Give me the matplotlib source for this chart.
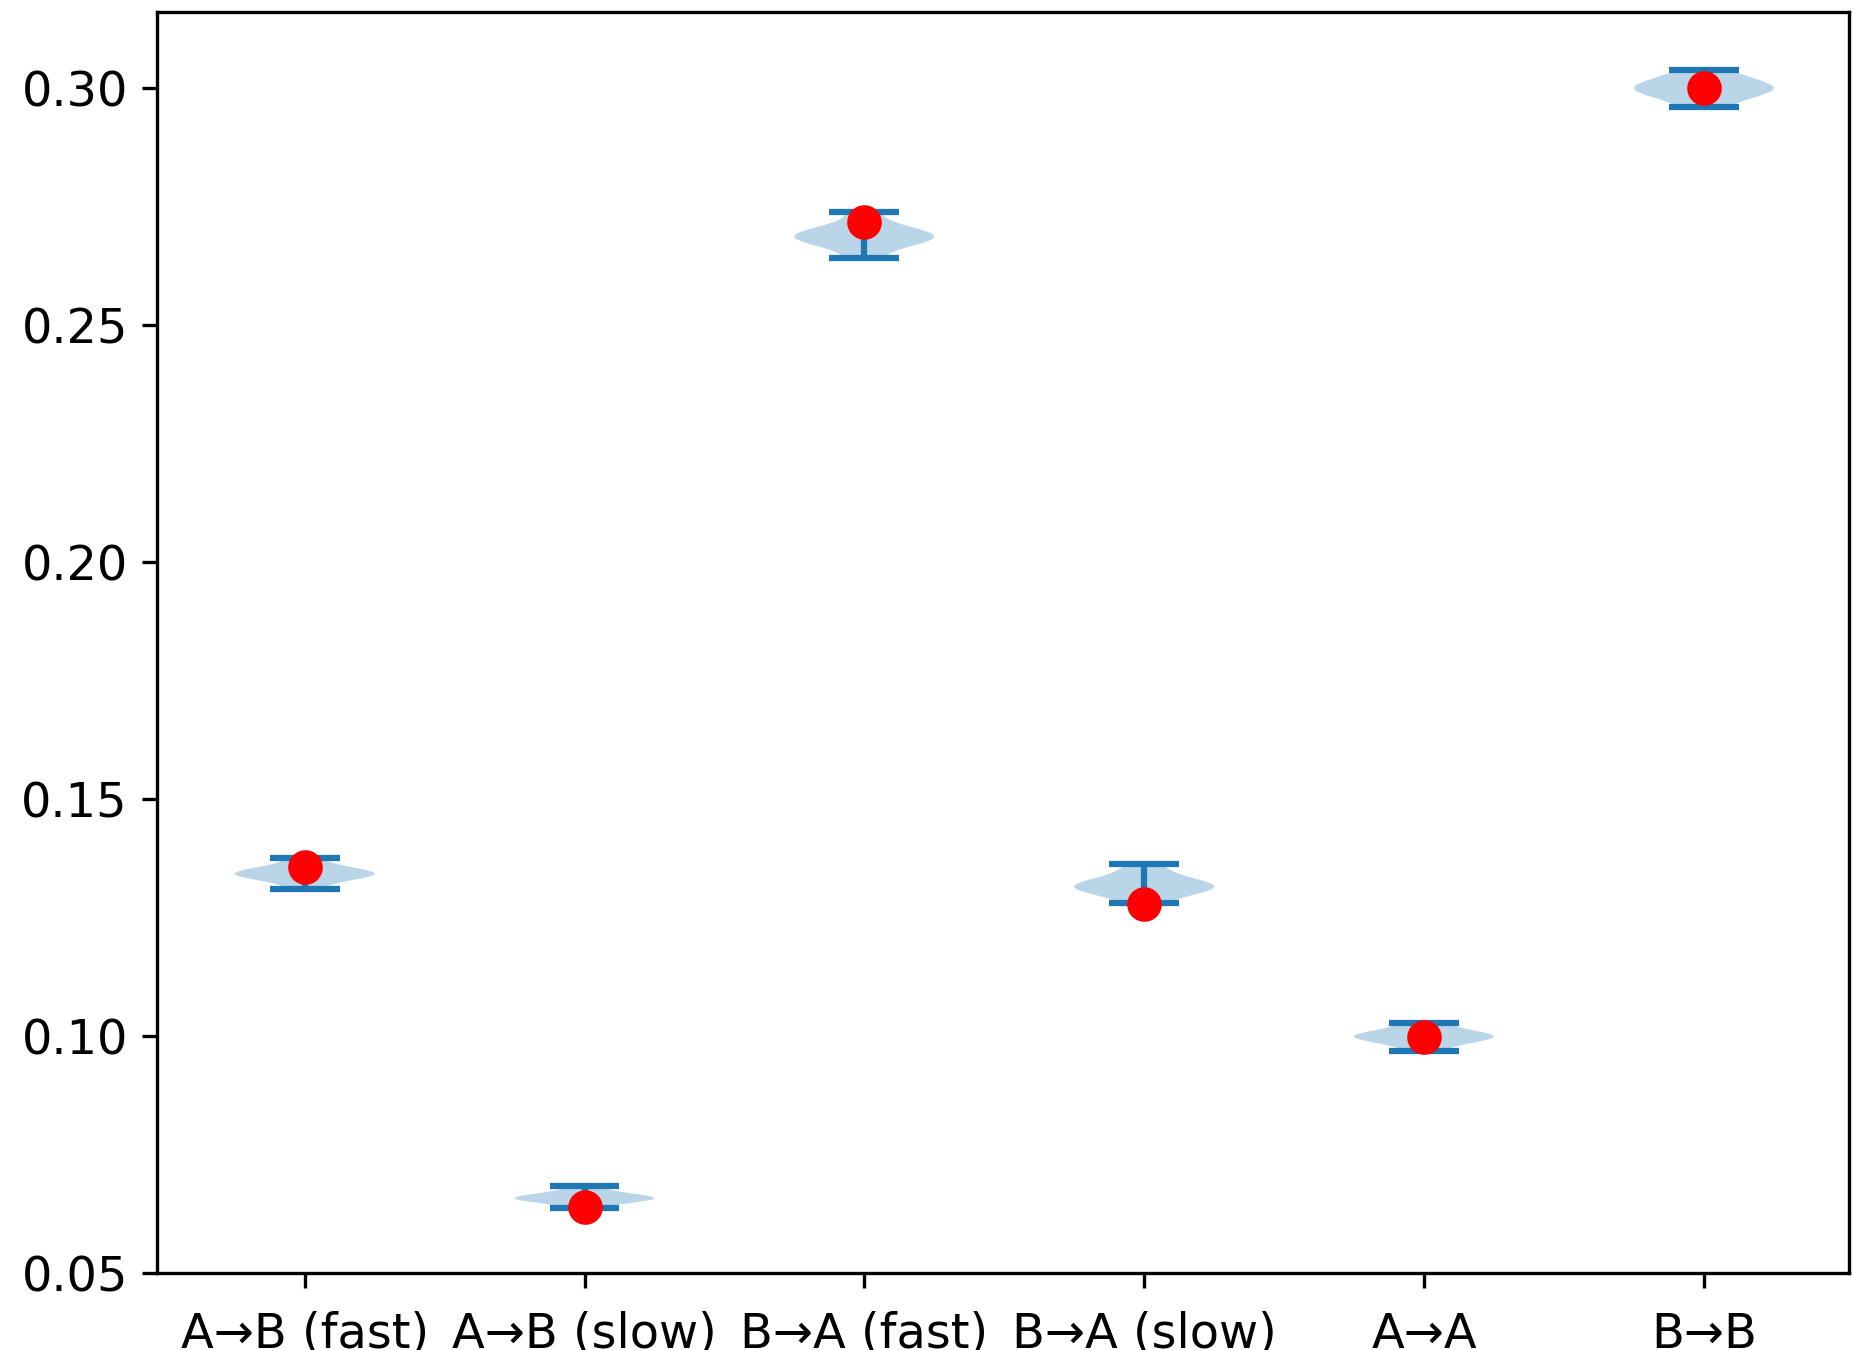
import matplotlib
matplotlib.use("Agg")
import matplotlib.pyplot as plt

labels = ["A→B (fast)", "A→B (slow)", "B→A (fast)", "B→A (slow)", "A→A", "B→B"]

# samples (min/max = caps)
s_ab_fast = [0.1310, 0.1330, 0.1336, 0.1340, 0.1342, 0.1345, 0.1350, 0.1356, 0.1375]
s_ab_slow = [0.0637, 0.0650, 0.0654, 0.0657, 0.0658, 0.0660, 0.0663, 0.0670, 0.0684]
s_ba_fast = [0.2641, 0.2668, 0.2678, 0.2684, 0.2687, 0.2690, 0.2696, 0.2708, 0.2738]
s_ba_slow = [0.1280, 0.1300, 0.1308, 0.1313, 0.1316, 0.1320, 0.1326, 0.1340, 0.1362]
s_aa = [0.0969, 0.0985, 0.0992, 0.0996, 0.0999, 0.1002, 0.1006, 0.1013, 0.1028]
s_bb = [0.2960, 0.2978, 0.2988, 0.2995, 0.3000, 0.3004, 0.3012, 0.3022, 0.3037]
samples = [s_ab_fast, s_ab_slow, s_ba_fast, s_ba_slow, s_aa, s_bb]

# red markers
points = [0.1357, 0.0639, 0.2718, 0.1278, 0.0998, 0.3000]

positions = list(range(1, len(labels) + 1))

fig = plt.figure(figsize=(1853 / 300, 1350 / 300), dpi=300)
ax = fig.add_axes([0.0847, 0.057, 0.9133, 0.934])

ax.violinplot(samples, positions=positions)
ax.plot(positions, points, "o", color="red", markersize=7.3, zorder=3)

ax.set_xticks(positions)
ax.set_xticklabels(labels)
ax.set_xlim(0.472, 6.52)
ax.set_ylim(0.05, 0.316)
ax.set_yticks([0.05, 0.10, 0.15, 0.20, 0.25, 0.30])
ax.tick_params(labelsize=11.5)
ax.tick_params(axis="x", pad=5.5)

fig.savefig("out.png", dpi=300)
